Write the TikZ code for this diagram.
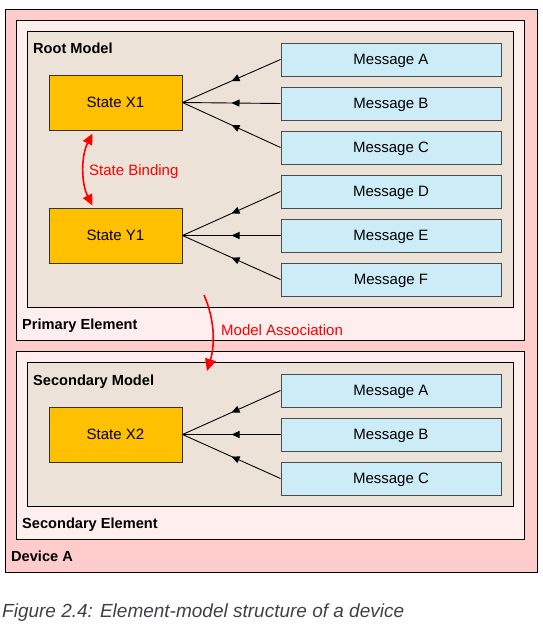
\documentclass[tikz,border=0pt]{standalone}
\usepackage{fontspec}
\setmainfont{Liberation Sans}
\usepackage{tikz}
\usetikzlibrary{arrows.meta}
\usetikzlibrary{decorations.markings}
\definecolor{devicecolor}{RGB}{255, 204, 204}
\definecolor{elementcolor}{RGB}{255, 238, 238}
\definecolor{modelcolor}{RGB}{237, 226, 215}
\definecolor{statecolor}{RGB}{255, 192, 0}
\definecolor{messagecolor}{RGB}{204, 236, 248}
\definecolor{captioncolor}{RGB}{64, 64, 72}
\tikzset{
    container/.style={shape=rectangle,
              draw=black,
              line width=1pt,
              inner sep=0pt},
    statebox/.style={shape=rectangle,
              draw=black!80,
              line width=1pt,
              fill=statecolor,
              text=black,
              text depth=0pt,
              font=\fontsize{15}{18}\selectfont,
              minimum width=133pt,
              minimum height=55pt},
    messagebox/.style={shape=rectangle,
              draw=black!70,
              line width=1pt,
              fill=messagecolor,
              text=black,
              text depth=0pt,
              font=\fontsize{15}{18}\selectfont,
              minimum width=220pt,
              minimum height=33pt},
    boxlabel/.style={anchor=base west,
              inner sep=0pt,
              font=\fontsize{14.6}{17}\selectfont\bfseries},
    incoming/.style={draw=black,
              line width=0.9pt,
              postaction={decorate},
              decoration={markings,
                  mark=at position 0.5 with {\arrow{Triangle[length=8pt,width=7pt]}}}},
    redlink/.style={draw=red,
              line width=1.6pt},
    redlabel/.style={anchor=base west,
              inner sep=0pt,
              text=red,
              font=\fontsize{15}{18}\selectfont}
}

\begin{document}
\begin{tikzpicture}[x=1pt,y=-1pt]
        \useasboundingbox (0,0) rectangle (543,630);
        % nested containers
        \node[container, fill=devicecolor, minimum width=532pt, minimum height=563pt] (device) at (271,290.5) {};
        \node[container, fill=elementcolor, minimum width=508pt, minimum height=320pt] (primary) at (270,180) {};
        \node[container, fill=modelcolor, minimum width=486pt, minimum height=276pt] (rootmodel) at (270,169) {};
        \node[container, fill=elementcolor, minimum width=508pt, minimum height=188pt] (secondary) at (270,445) {};
        \node[container, fill=modelcolor, minimum width=486pt, minimum height=144pt] (secmodel) at (270,434) {};

        \node[boxlabel] (rootlabel) at (33,53) {Root Model};
        \node[boxlabel] (primarylabel) at (22,329) {Primary Element};
        \node[boxlabel] (secmodellabel) at (33,385) {Secondary Model};
        \node[boxlabel] (secondarylabel) at (22,528) {Secondary Element};
        \node[boxlabel] (devicelabel) at (11,561) {Device A};

        % states
        \node[statebox] (stateX1) at (115.5,102.5) {State X1};
        \node[statebox] (stateY1) at (115.5,235.5) {State Y1};
        \node[statebox] (stateX2) at (115.5,434.5) {State X2};

        % messages
        \node[messagebox] (msgA) at (391,59.5) {Message A};
        \node[messagebox] (msgB) at (391,103.5) {Message B};
        \node[messagebox] (msgC) at (391,147.5) {Message C};
        \node[messagebox] (msgD) at (391,191.5) {Message D};
        \node[messagebox] (msgE) at (391,235.5) {Message E};
        \node[messagebox] (msgF) at (391,279.5) {Message F};
        \node[messagebox] (secA) at (391,390.5) {Message A};
        \node[messagebox] (secB) at (391,434.5) {Message B};
        \node[messagebox] (secC) at (391,478.5) {Message C};

        \foreach \m in {msgA,msgB,msgC}
            \draw[incoming] (\m.west) -- (stateX1.east);
        \foreach \m in {msgD,msgE,msgF}
            \draw[incoming] (\m.west) -- (stateY1.east);
        \foreach \m in {secA,secB,secC}
            \draw[incoming] (\m.west) -- (stateX2.east);

        % binding and association
        \coordinate (bindtop) at ([xshift=-23pt,yshift=-3pt]stateX1.south);
        \coordinate (bindbottom) at ([xshift=-23pt,yshift=2pt]stateY1.north);
        \draw[redlink, {Triangle[length=11pt,width=10pt]}-{Triangle[length=11pt,width=10pt]}]
            (bindtop) .. controls (81,156) and (81,183) .. (bindbottom);
        \node[redlabel] (bindlabel) at (89,175) {State Binding};

        \coordinate (assocstart) at (204,295);
        \coordinate (assocend) at (207,371);
        \draw[redlink, -{Triangle[length=12pt,width=11pt]}]
            (assocstart) .. controls (215,320) and (215,345) .. (assocend);
        \node[redlabel] (assoclabel) at (221,335) {Model Association};

        % caption
        \node[anchor=base west, inner sep=0pt, text=captioncolor,
              font=\fontsize{19}{22}\selectfont\itshape] (caption) at (2,617)
              {Figure 2.4: Element-model structure of a device};
    \end{tikzpicture}
\end{document}
